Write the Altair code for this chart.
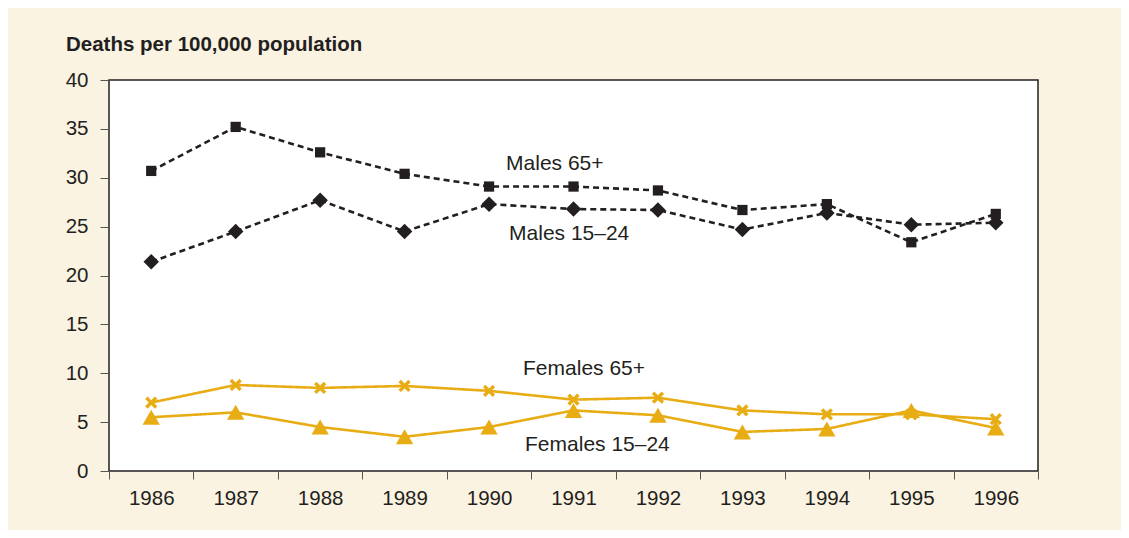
import altair as alt
import pandas as pd

years = [1986, 1987, 1988, 1989, 1990, 1991, 1992, 1993, 1994, 1995, 1996]
males_65 = [30.7, 35.2, 32.6, 30.4, 29.1, 29.1, 28.7, 26.7, 27.3, 23.4, 26.3]
males_15_24 = [21.4, 24.5, 27.7, 24.5, 27.3, 26.8, 26.7, 24.7, 26.4, 25.2, 25.4]
females_65 = [7.0, 8.8, 8.5, 8.7, 8.2, 7.3, 7.5, 6.2, 5.8, 5.8, 5.3]
females_15_24 = [5.5, 6.0, 4.5, 3.5, 4.5, 6.2, 5.7, 4.0, 4.3, 6.2, 4.4]

series_names = ["Males 65+", "Males 15–24", "Females 65+", "Females 15–24"]
series_values = [males_65, males_15_24, females_65, females_15_24]

label_texts = ["Males 65+", "Males 15–24", "Females 65+", "Females 15–24"]
label_years = [1990, 1990, 1990, 1990]
label_values = [31.4, 24.2, 10.4, 2.7]

title_text = "Deaths per 100,000 population"

DARK = "#231F20"
GOLD = "#E8AC14"
CREAM = "#FBF3E2"
FONT = "Liberation Sans"
X_SHAPE = "M-1,-0.6L-0.6,-1L0,-0.4L0.6,-1L1,-0.6L0.4,0L1,0.6L0.6,1L0,0.4L-0.6,1L-1,0.6L-0.4,0Z"

rows = []
for name, vals in zip(series_names, series_values):
    for y, v in zip(years, vals):
        rows.append({"year": y, "value": v, "series": name})
df = pd.DataFrame(rows)

x_enc = alt.X(
    "year:O",
    title=None,
    scale=alt.Scale(type="band", paddingInner=0, paddingOuter=0),
    axis=alt.Axis(
        tickBand="extent",
        labelAngle=0,
        labelFontSize=20.5,
        labelFont=FONT,
        labelColor=DARK,
        labelPadding=9,
        tickSize=8,
        tickColor="#555555",
        tickWidth=1,
        domain=False,
        grid=False,
    ),
)
y_enc = alt.Y(
    "value:Q",
    title=None,
    scale=alt.Scale(domain=[0, 40], nice=False, zero=True),
    axis=alt.Axis(
        values=[0, 5, 10, 15, 20, 25, 30, 35, 40],
        labelFontSize=20.5,
        labelFont=FONT,
        labelColor=DARK,
        labelPadding=12,
        tickSize=9,
        tickColor="#555555",
        tickWidth=1,
        domain=False,
        grid=False,
    ),
)

color_scale = alt.Scale(domain=series_names, range=[DARK, DARK, GOLD, GOLD])

lines = alt.Chart(df).mark_line(strokeWidth=2.6).encode(
    x=x_enc,
    y=y_enc,
    color=alt.Color("series:N", scale=color_scale, legend=None),
    strokeDash=alt.StrokeDash(
        "series:N",
        scale=alt.Scale(domain=series_names, range=[[6, 4], [6, 4], [1, 0], [1, 0]]),
        legend=None,
    ),
    detail="series:N",
)

marker_styles = {
    "Males 65+": ("square", 105, DARK),
    "Males 15–24": ("diamond", 240, DARK),
    "Females 65+": (X_SHAPE, 150, GOLD),
    "Females 15–24": ("triangle-up", 300, GOLD),
}
point_layers = []
for name in series_names:
    shp, sz, col = marker_styles[name]
    point_layers.append(
        alt.Chart(df[df["series"] == name])
        .mark_point(filled=True, opacity=1, shape=shp, size=sz, color=col)
        .encode(x=x_enc, y=y_enc)
    )

label_df = pd.DataFrame({"text": label_texts, "year": label_years, "value": label_values})
label_dx = [17, 20, 34, 36]
label_layers = []
for i, t in enumerate(label_texts):
    label_layers.append(
        alt.Chart(label_df[label_df["text"] == t])
        .mark_text(align="left", baseline="middle", fontSize=21, font=FONT, color=DARK, dx=label_dx[i])
        .encode(x=alt.X("year:O"), y=alt.Y("value:Q"), text="text:N")
    )

title = alt.Chart(pd.DataFrame({"t": [title_text]})).mark_text(
    align="left", baseline="middle", fontSize=20.5, fontWeight="bold", font=FONT, color=DARK
).encode(x=alt.value(-43), y=alt.value(-35), text="t:N")

chart = (
    alt.layer(lines, *point_layers, *label_layers, title)
    .properties(
        width=929,
        height=391,
        autosize=alt.AutoSizeParams(type="none"),
        padding={"left": 101, "top": 72, "right": 83, "bottom": 59},
        background=CREAM,
    )
    .configure_view(stroke=DARK, strokeWidth=1.5, fill="white")
)

chart.save("out.html", embed_options={"renderer": "svg", "actions": False})
